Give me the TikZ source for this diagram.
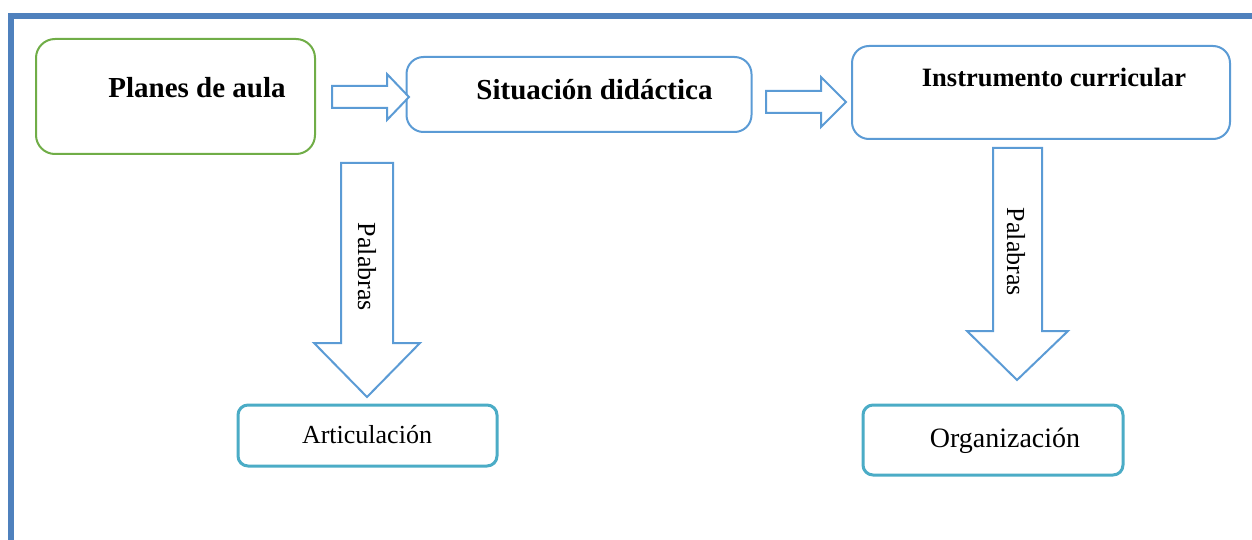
\documentclass[tikz,border=0pt]{standalone}
\usepackage{fontspec}
\setmainfont{Liberation Serif}
\definecolor{framecol}{HTML}{4F81BD}
\definecolor{boxblue}{HTML}{5B9BD5}
\definecolor{boxgreen}{HTML}{70AD47}
\definecolor{boxteal}{HTML}{4BACC6}
\begin{document}
\begin{tikzpicture}[x=1pt,y=-1pt,
  topbox/.style={draw=boxblue,line width=2pt,rounded corners=17pt,fill=white,inner sep=0pt},
  botbox/.style={draw=boxteal,line width=3pt,rounded corners=10pt,fill=white,inner sep=0pt},
  blockarrow/.style={draw=boxblue,line width=2pt,line join=miter,fill=white},
  boldtxt/.style={font=\bfseries\fontsize{29}{34}\selectfont,anchor=base,inner sep=0pt},
  plaintxt/.style={font=\fontsize{26}{31}\selectfont,anchor=base,inner sep=0pt},
  sidetxt/.style={font=\fontsize{26}{31}\selectfont,rotate=-90,inner sep=0pt}]
\useasboundingbox (0,0) rectangle (1252,540);
% frame
\draw[framecol,line width=5.5pt] (11,545) -- (11,15.8) -- (1260,15.8);
% boxes
\node[topbox,draw=boxgreen,rounded corners=19pt,minimum width=279pt,minimum height=115pt] (planes) at (175.5,96.5) {};
\node[topbox,minimum width=345pt,minimum height=75pt] (situ) at (579,94.5) {};
\node[topbox,minimum width=378pt,minimum height=93pt] (instr) at (1041,92.5) {};
\node[botbox,minimum width=259pt,minimum height=61pt] (artic) at (367.5,435.5) {};
\node[botbox,minimum width=260pt,minimum height=70pt] (organ) at (993,440) {};
% texts
\node[boldtxt] (tplanes) at (197,98) {Planes de aula};
\node[boldtxt] (tsitu) at (594.5,100) {Situación didáctica};
\node[boldtxt,font=\bfseries\fontsize{26.5}{31}\selectfont] (tinstr) at (1054,87) {Instrumento curricular};
\node[plaintxt] (tartic) at (367,443) {Articulación};
\node[plaintxt,font=\fontsize{28}{33}\selectfont] (torgan) at (1005,447) {Organización};
% right block arrows
\draw[blockarrow] (332,86) -- (387,86) -- (387,74) -- (409,97) -- (387,120) -- (387,108) -- (332,108) -- cycle;
\draw[blockarrow] (766,91) -- (821,91) -- (821,77) -- (846,102) -- (821,127) -- (821,113) -- (766,113) -- cycle;
% down block arrows
\draw[blockarrow] (341,163) -- (393,163) -- (393,343) -- (420,343) -- (367,397) -- (314,343) -- (341,343) -- cycle;
\draw[blockarrow] (993,148) -- (1042,148) -- (1042,331) -- (1068,331) -- (1017,380) -- (967,331) -- (993,331) -- cycle;
\node[sidetxt] (pal1) at (367,267) {Palabras};
\node[sidetxt] (pal2) at (1016,252) {Palabras};
\end{tikzpicture}
\end{document}
